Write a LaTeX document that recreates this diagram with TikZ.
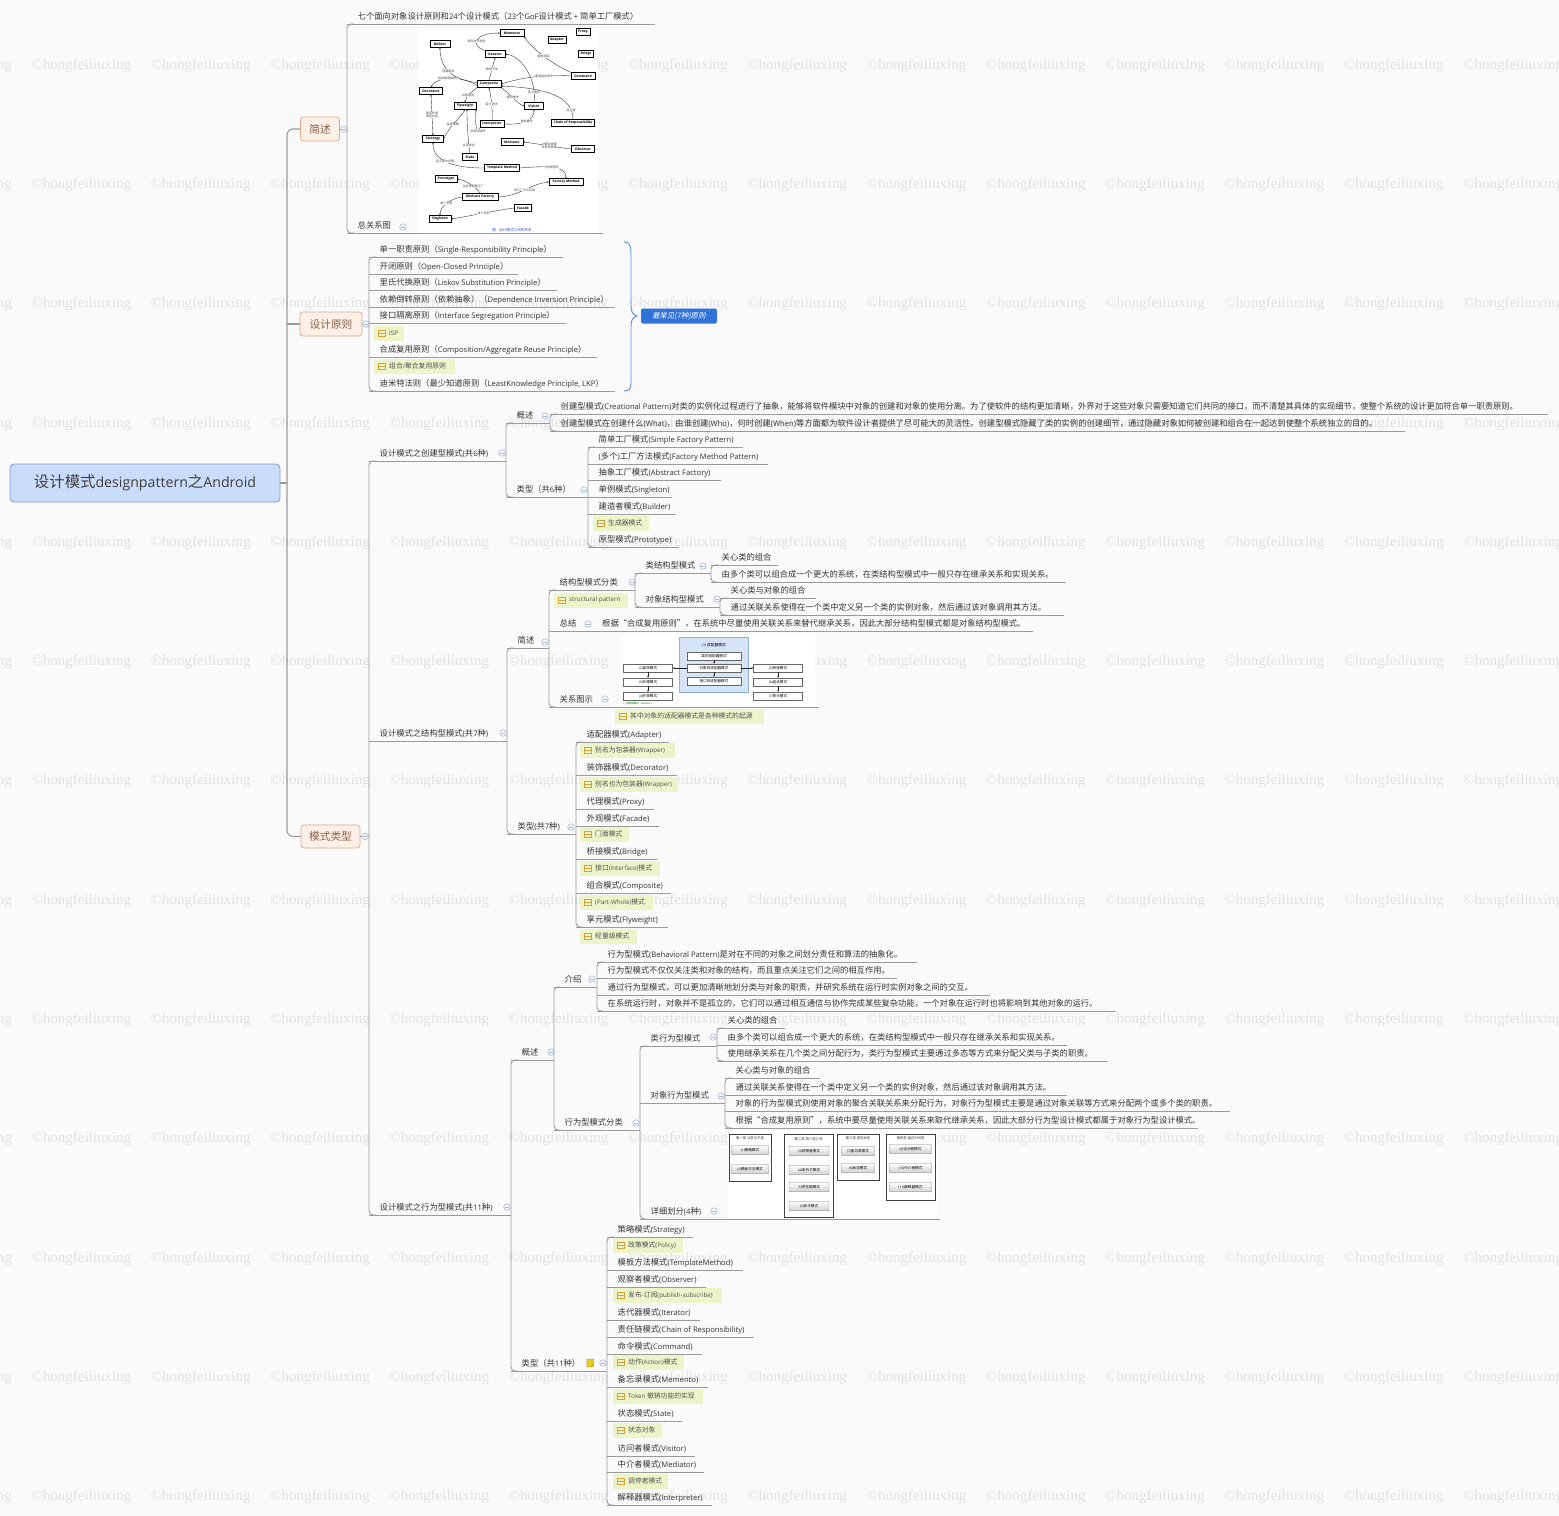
\documentclass[tikz,border=0pt]{standalone}
\usepackage{fontspec}
\setmainfont{Open Sans}[Scale=0.92]
\newfontfamily\latf{Open Sans}[Scale=0.92]
\newfontfamily\cjkf{Noto Sans CJK SC}
\newfontfamily\cjksl{Noto Sans CJK SC}[FakeSlant=0.18]
\newfontfamily\wmf{Liberation Serif}
\usetikzlibrary{calc,arrows.meta}

\XeTeXinterchartokenstate=1
\newXeTeXintercharclass\cjkcls
\newcount\mycnt
\mycnt="3000 \loop\ifnum\mycnt<"3040 \XeTeXcharclass\mycnt=\cjkcls \advance\mycnt by 1 \repeat
\mycnt="4E00 \loop\ifnum\mycnt<"A000 \XeTeXcharclass\mycnt=\cjkcls \advance\mycnt by 1 \repeat
\mycnt="FF00 \loop\ifnum\mycnt<"FFF0 \XeTeXcharclass\mycnt=\cjkcls \advance\mycnt by 1 \repeat
\XeTeXcharclass"201C=\cjkcls
\XeTeXcharclass"201D=\cjkcls
\XeTeXinterchartoks 0 \cjkcls = {\cjkf}
\XeTeXinterchartoks 4095 \cjkcls = {\cjkf}
\XeTeXinterchartoks \cjkcls 0 = {\latf}
\XeTeXinterchartoks \cjkcls 4095 = {\latf}

\definecolor{bgc}{HTML}{FAFAFA}
\definecolor{txt}{HTML}{333333}
\definecolor{lnc}{HTML}{9B9B9B}
\definecolor{rootf}{HTML}{C9DCFA}
\definecolor{rootd}{HTML}{7F98CB}
\definecolor{l1f}{HTML}{FDF1E6}
\definecolor{l1d}{HTML}{D9A98B}
\definecolor{l1t}{HTML}{86604A}
\definecolor{notef}{HTML}{EDF4C9}
\definecolor{notei}{HTML}{D4A23C}
\definecolor{collc}{HTML}{A9B8DC}
\definecolor{bracec}{HTML}{5A8FDB}
\definecolor{sumf}{HTML}{2F72D8}
\definecolor{wmc}{HTML}{E2E2E2}
\definecolor{capc}{HTML}{2B4FD6}
\definecolor{panelf}{HTML}{D6E4F8}
\definecolor{paneld}{HTML}{8EAEE2}

\newcommand{\tpc}[5]{%
  \coordinate (#1-l) at (#2,#3);
  \coordinate (#1-r) at (#4,#3);
  \draw[ln] (#1-l) -- (#1-r);
  \node[tp, anchor=base west] (#1) at ($(#1-l)+(10.5,-4.4)$) {#5};
}
\newcommand{\brch}[2]{\draw[ln, rounded corners=4pt] ($(#1-l)+(7,0)$) -- (#1-l) -- (#2-l) -- ($(#2-l)+(7,0)$);}
\newcommand{\nte}[5]{%
  \fill[notef] (#2,#3-7.5) rectangle (#4,#3+7.5);
  \coordinate (#1) at (#2,#3);
  \draw[notei, line width=0.6pt] ($(#1)+(4,-3)$) rectangle ($(#1)+(11,3)$);
  \draw[notei, line width=0.6pt] ($(#1)+(4,0)$) -- ($(#1)+(11,0)$);
  \node[ntext, anchor=west] (#1-t) at ($(#1)+(15,0)$) {#5};
}
\newcommand{\cll}[3]{\node[coll] (#1) at (#2,#3) {};}

\begin{document}
\begin{tikzpicture}[x=1pt,y=-1pt,
  ln/.style={draw=lnc, line width=0.9pt},
  ln1/.style={draw=lnc, line width=1.1pt},
  tp/.style={inner sep=0pt, font=\fontsize{8.3}{10}\selectfont, text=txt},
  l1box/.style={rectangle, rounded corners=3pt, fill=l1f, draw=l1d, line width=0.7pt, text=l1t, font=\fontsize{10.7}{12}\selectfont, inner sep=0pt},
  coll/.style={circle, draw=collc, line width=0.6pt, fill=bgc, minimum size=6.5pt, inner sep=0pt,
    path picture={\draw[collc, line width=0.7pt] ([xshift=-1.8pt]path picture bounding box.center) -- ([xshift=1.8pt]path picture bounding box.center);}},
  ntext/.style={inner sep=0pt, font=\fontsize{6.8}{8}\selectfont, text=txt!85},
  wm/.style={font=\wmf\fontsize{15}{16}\selectfont, text=wmc, inner sep=0pt, anchor=west},
  ibox/.style={draw=black, line width=0.45pt, fill=white, inner sep=0pt, minimum height=6.8pt, font=\fontsize{3.7}{4.5}\selectfont\bfseries},
  ilab/.style={inner sep=0.2pt, font=\fontsize{3}{3.6}\selectfont, text=black!75, fill=white, align=center},
  iarr/.style={draw=black!85, line width=0.35pt, -{Stealth[length=1.8pt,width=1.5pt]}},
  sbox/.style={draw=black!60, line width=0.4pt, fill=white, minimum width=49pt, minimum height=8pt, inner sep=0pt, font=\fontsize{3.6}{4}\selectfont},
  grp/.style={draw=black!75, line width=0.7pt, fill=white},
  gtitle/.style={inner sep=0pt, font=\fontsize{3.4}{4}\selectfont, text=black!80},
  btn/.style={draw=black!50, line width=0.4pt, top color=white, bottom color=black!18, rounded corners=0.8pt, minimum height=9.5pt, inner sep=0pt, font=\fontsize{3.6}{4}\selectfont}
]
\useasboundingbox (0,0) rectangle (1559,1516);
\fill[bgc] (0,0) rectangle (1559,1516);

% watermarks
\begin{scope}
\clip (0,0) rectangle (1559,1516);
\foreach \i in {0,...,13}{\foreach \j in {0,...,12}{
  \node[wm] (wm-\i-\j) at ({-88+119.3*\i},{65.5+119.3*\j}) {©hongfeiliuxing};
}}
\end{scope}

% root and level 1
\node[rectangle, rounded corners=4pt, fill=rootf, draw=rootd, line width=0.8pt, minimum width=270pt, minimum height=38pt, font=\fontsize{15.4}{18}\selectfont, text=black!75] (root) at (145,483) {设计模式designpattern之Android};
\node[l1box, minimum width=39pt, minimum height=24pt] (S1) at (320,129) {简述};
\node[l1box, minimum width=62pt, minimum height=24pt] (S2) at (331,324) {设计原则};
\node[l1box, minimum width=59pt, minimum height=23pt] (S3) at (330.5,836.5) {模式类型};
\draw[ln1, rounded corners=6pt] (S1.west) -| (287,483) |- (S3.west);
\draw[ln1] (root.east) -- (287,483);
\draw[ln1] (287,324) -- (S2.west);
\draw[ln] (S1.east) -- (347,129);
\draw[ln] (S2.east) -- (369,324);
\draw[ln] (S3.east) -- (369,836.5);
\cll{cS1}{344}{129}
\cll{cS2}{366}{324}
\cll{cS3}{365}{836.5}

% ---- 简述
\tpc{t1}{347}{24}{655}{七个面向对象设计原则和24个设计模式（23个GoF设计模式 + 简单工厂模式）}
\tpc{t2}{347}{233}{603}{总关系图}
\brch{t1}{t2}
\cll{ct2}{403}{227}

% ---- 设计原则
\tpc{p1}{369}{257}{563}{单一职责原则（Single-Responsibility  Principle）}
\tpc{p2}{369}{274}{518}{开闭原则（Open-Closed  Principle）}
\tpc{p3}{369}{290}{557}{里氏代换原则（Liskov Substitution Principle）}
\tpc{p4}{369}{307}{615}{依赖倒转原则（依赖抽象）（Dependence Inversion Principle）}
\tpc{p5}{369}{323}{566}{接口隔离原则（Interface Segregation Principle）}
\tpc{p6}{369}{357}{597}{合成复用原则（Composition/Aggregate Reuse Principle）}
\tpc{p7}{369}{391}{615}{迪米特法则（最少知道原则（LeastKnowledge Principle, LKP）}
\brch{p1}{p7}
\nte{n1}{374}{333}{404}{ISP}
\nte{n2}{374}{366}{455}{组合/聚合复用原则}
\draw[bracec, line width=0.9pt] (624,242) .. controls (629,242) and (631,245) .. (631,252) -- (631,306) .. controls (631,312) and (633,315) .. (637,316) .. controls (633,317) and (631,320) .. (631,326) -- (631,382) .. controls (631,389) and (629,391) .. (624,391);
\node[fill=sumf, draw=sumf!60!white, rounded corners=2pt, minimum width=76pt, minimum height=15pt, inner sep=0pt, text=white, font=\fontsize{7.4}{9}\selectfont] (sum) at (679,316) {\XeTeXinterchartokenstate=0 \cjksl 最常见(7种)原则};

% ---- 模式类型 level 2
\tpc{cre}{369}{461}{506}{设计模式之创建型模式(共6种)}
\tpc{str}{369}{741}{507}{设计模式之结构型模式(共7种)}
\tpc{beh}{369}{1215}{511}{设计模式之行为型模式(共11种)}
\brch{cre}{beh}
\cll{ccre}{502}{453}
\cll{cstr}{503}{733}
\cll{cbeh}{507}{1207}

% ---- 创建型
\tpc{cg}{506}{423}{550}{概述}
\tpc{ct}{506}{497}{588}{类型（共6种）}
\brch{cg}{ct}
\cll{ccg}{545}{416}
\cll{cct}{584}{490}
\tpc{cg1}{550}{414}{1548}{创建型模式(Creational Pattern)对类的实例化过程进行了抽象，能够将软件模块中对象的创建和对象的使用分离。为了使软件的结构更加清晰，外界对于这些对象只需要知道它们共同的接口，而不清楚其具体的实现细节，使整个系统的设计更加符合单一职责原则。}
\tpc{cg2}{550}{431}{1405}{创建型模式在创建什么(What)，由谁创建(Who)，何时创建(When)等方面都为软件设计者提供了尽可能大的灵活性。创建型模式隐藏了类的实例的创建细节，通过隐藏对象如何被创建和组合在一起达到使整个系统独立的目的。}
\brch{cg1}{cg2}
\tpc{ct1}{588}{447}{743}{简单工厂模式(Simple Factory Pattern)}
\tpc{ct2}{588}{464}{768}{(多个)工厂方法模式(Factory Method Pattern)}
\tpc{ct3}{588}{480}{721}{抽象工厂模式(Abstract  Factory)}
\tpc{ct4}{588}{497}{672}{单例模式(Singleton)}
\tpc{ct5}{588}{514}{676}{建造者模式(Builder)}
\tpc{ct6}{588}{547}{679}{原型模式(Prototype)}
\brch{ct1}{ct6}
\nte{n3}{593}{523}{649}{生成器模式}

% ---- 结构型
\tpc{sj}{507}{648}{549}{简述}
\tpc{sl}{507}{834}{576}{类型(共7种)}
\brch{sj}{sl}
\cll{csj}{545}{642}
\cll{csl}{571}{827}
\tpc{sf}{549}{590}{635}{结构型模式分类}
\tpc{sz}{549}{631}{1033}{总结}
\tpc{sg}{549}{707}{819}{关系图示}
\brch{sf}{sg}
\cll{csf}{632}{582}
\cll{csz}{588}{624}
\cll{csg}{605}{699}
\node[tp, anchor=base west] (szt) at (602,626.6) {根据“合成复用原则”，在系统中尽量使用关联关系来替代继承关系，因此大部分结构型模式都是对象结构型模式。};
\nte{n4}{554}{600}{628}{structural pattern}
\tpc{sf1}{635}{573}{711}{类结构型模式}
\tpc{sf2}{635}{607}{720}{对象结构型模式}
\brch{sf1}{sf2}
\cll{csf1}{703}{566}
\cll{csf2}{717}{599}
\tpc{sf11}{711}{565}{778}{关心类的组合}
\tpc{sf12}{711}{582}{1066}{由多个类可以组合成一个更大的系统，在类结构型模式中一般只存在继承关系和实现关系。}
\brch{sf11}{sf12}
\tpc{sf21}{720}{598}{816}{关心类与对象的组合}
\tpc{sf22}{720}{615}{1064}{通过关联关系使得在一个类中定义另一个类的实例对象，然后通过该对象调用其方法。}
\brch{sf21}{sf22}
\nte{n5}{615}{716}{764}{其中对象的适配器模式是各种模式的起源}
\tpc{sl1}{576}{742}{669}{适配器模式(Adapter)}
\tpc{sl2}{576}{775}{677}{装饰器模式(Decorator)}
\tpc{sl3}{576}{809}{654}{代理模式(Proxy)}
\tpc{sl4}{576}{826}{659}{外观模式(Facade)}
\tpc{sl5}{576}{859}{657}{桥接模式(Bridge)}
\tpc{sl6}{576}{893}{671}{组合模式(Composite)}
\tpc{sl7}{576}{927}{668}{享元模式(Flyweight)}
\brch{sl1}{sl7}
\nte{n6}{580}{750}{675}{别名为包装器(Wrapper)}
\nte{n7}{580}{784}{678}{别名也为包装器(Wrapper)}
\nte{n8}{580}{834}{629}{门面模式}
\nte{n9}{580}{868}{660}{接口(Interface)模式}
\nte{n10}{580}{902}{653}{(Part-Whole)模式}
\nte{n11}{580}{936}{637}{轻量级模式}

% ---- 行为型
\tpc{bg}{511}{1060}{554}{概述}
\tpc{bt}{511}{1371}{607}{类型（共11种）}
\brch{bg}{bt}
\cll{cbg}{551}{1052}
\cll{cbt}{603}{1363}
\fill[notei!55!yellow] (586.5,1359) rectangle (593.5,1367);
\draw[notei!80!black, line width=0.4pt] (586.5,1359) -- (593.5,1359) -- (593.5,1364.5) -- (591,1367) -- (586.5,1367) -- cycle;
\tpc{bj}{554}{987}{597}{介绍}
\tpc{bf}{554}{1130}{640}{行为型模式分类}
\brch{bj}{bf}
\cll{cbj}{592}{979}
\cll{cbf}{636}{1123}
\tpc{bj1}{597}{962}{917}{行为型模式(Behavioral Pattern)是对在不同的对象之间划分责任和算法的抽象化。}
\tpc{bj2}{597}{978}{897}{行为型模式不仅仅关注类和对象的结构，而且重点关注它们之间的相互作用。}
\tpc{bj3}{597}{995}{990}{通过行为型模式，可以更加清晰地划分类与对象的职责，并研究系统在运行时实例对象之间的交互。}
\tpc{bj4}{597}{1011}{1116}{在系统运行时，对象并不是孤立的，它们可以通过相互通信与协作完成某些复杂功能，一个对象在运行时也将影响到其他对象的运行。}
\brch{bj1}{bj4}
\tpc{bf1}{640}{1046}{717}{类行为型模式}
\tpc{bf2}{640}{1103}{725}{对象行为型模式}
\tpc{bf3}{640}{1219}{940}{详细划分(4种)}
\brch{bf1}{bf3}
\cll{cbf1}{713}{1037}
\cll{cbf2}{721}{1096}
\cll{cbf3}{714}{1211}
\tpc{bf11}{717}{1028}{785}{关心类的组合}
\tpc{bf12}{717}{1045}{1067}{由多个类可以组合成一个更大的系统，在类结构型模式中一般只存在继承关系和实现关系。}
\tpc{bf13}{717}{1061}{1108}{使用继承关系在几个类之间分配行为，类行为型模式主要通过多态等方式来分配父类与子类的职责。}
\brch{bf11}{bf13}
\tpc{bf21}{725}{1078}{820}{关心类与对象的组合}
\tpc{bf22}{725}{1095}{1067}{通过关联关系使得在一个类中定义另一个类的实例对象，然后通过该对象调用其方法。}
\tpc{bf23}{725}{1111}{1230}{对象的行为型模式则使用对象的聚合关联关系来分配行为，对象行为型模式主要是通过对象关联等方式来分配两个或多个类的职责。}
\tpc{bf24}{725}{1128}{1198}{根据“合成复用原则”，系统中要尽量使用关联关系来取代继承关系，因此大部分行为型设计模式都属于对象行为型设计模式。}
\brch{bf21}{bf24}
\tpc{bt1}{607}{1237}{693}{策略模式(Strategy)}
\tpc{bt2}{607}{1270}{743}{模板方法模式(TemplateMethod)}
\tpc{bt3}{607}{1287}{706}{观察者模式(Observer)}
\tpc{bt4}{607}{1320}{700}{迭代器模式(Iterator)}
\tpc{bt5}{607}{1337}{754}{责任链模式(Chain of Responsibility)}
\tpc{bt6}{607}{1354}{702}{命令模式(Command)}
\tpc{bt7}{607}{1387}{708}{备忘录模式(Memento)}
\tpc{bt8}{607}{1421}{682}{状态模式(State)}
\tpc{bt9}{607}{1456}{695}{访问者模式(Visitor)}
\tpc{bt10}{607}{1472}{704}{中介者模式(Mediator)}
\tpc{bt11}{607}{1505}{712}{解释器模式(Interpreter)}
\brch{bt1}{bt11}
\nte{n12}{613}{1245}{683}{政策模式(Policy)}
\nte{n13}{613}{1295}{722}{发布-订阅(publish-subscribe)}
\nte{n14}{613}{1362}{684}{动作(Action)模式}
\nte{n15}{613}{1396}{703}{Token 撤销功能的实现}
\nte{n16}{613}{1430}{662}{状态对象}
\nte{n17}{613}{1481}{668}{调停者模式}

% ===== image 1: relations among patterns
\fill[white] (418,28) rectangle (598,233);
\node[ibox, minimum width=24pt] (gM) at (512,33) {Memento};
\node[ibox, minimum width=14pt] (gPx) at (583,32) {Proxy};
\node[ibox, minimum width=18pt] (gAd) at (557,40) {Adapter};
\node[ibox, minimum width=20pt] (gBu) at (440,44) {Builder};
\node[ibox, minimum width=20pt] (gIt) at (495,54) {Iterator};
\node[ibox, minimum width=15pt] (gBr) at (586,54) {Bridge};
\node[ibox, minimum width=24pt] (gCm) at (583,76) {Command};
\node[ibox, minimum width=24pt] (gCo) at (489,84) {Composite};
\node[ibox, minimum width=23pt] (gDe) at (431,91) {Decorator};
\node[ibox, minimum width=22pt] (gFl) at (465,106) {Flyweight};
\node[ibox, minimum width=19pt] (gVi) at (534,106) {Visitor};
\node[ibox, minimum width=24pt] (gIn) at (492,124) {Interpreter};
\node[ibox, minimum width=43pt] (gCh) at (573,123) {Chain of Responsibility};
\node[ibox, minimum width=21pt] (gSg) at (433,139) {Strategy};
\node[ibox, minimum width=22pt] (gMe) at (512,142) {Mediator};
\node[ibox, minimum width=23pt] (gOb) at (583,149) {Observer};
\node[ibox, minimum width=15pt] (gSe) at (470,157) {State};
\node[ibox, minimum width=35pt] (gTM) at (502,168) {Template Method};
\node[ibox, minimum width=22pt] (gPr) at (446,179) {Prototype};
\node[ibox, minimum width=34pt] (gFM) at (566,182) {Factory Method};
\node[ibox, minimum width=36pt] (gAF) at (480,197) {Abstract Factory};
\node[ibox, minimum width=17pt] (gFa) at (523,208) {Facade};
\node[ibox, minimum width=22pt] (gSi) at (440,219) {Singleton};
\draw[iarr] (gIt.north west) .. controls (470,46) and (474,33) .. (gM.west) node[ilab, pos=0.45] (gl1) {保存迭代状态};
\draw[iarr] ($(gCo.west)+(0,-1.5)$) .. controls (450,80) and (440,66) .. (gBu.south) node[ilab, pos=0.5] (gl2) {创建组合};
\draw[iarr] (gCo.north) -- (gIt.south) node[ilab, pos=0.5] (gl3) {枚举子女};
\draw[iarr] (gCm.north west) .. controls (548,62) and (530,46) .. (gM.south east) node[ilab, pos=0.45] (gl4) {避免滞后};
\draw[iarr] (gCm.west) .. controls (545,74) and (520,78) .. (gCo.east) node[ilab, pos=0.35] (gl5) {使用组合命令};
\draw[iarr] ($(gCo.west)+(0,1.5)$) .. controls (465,76) and (436,76) .. (gDe.north) node[ilab, pos=0.55] (gl6) {给对象增加职责};
\draw[iarr] (gCo.south west) .. controls (472,92) and (466,96) .. (gFl.north) node[ilab, pos=0.6] (gl7) {共享组合};
\draw[iarr] (gCo.south east) .. controls (510,94) and (518,104) .. (gVi.west) node[ilab, pos=0.45] (gl8) {增加操作};
\draw[iarr] (gVi.north) .. controls (537,80) and (522,56) .. (gIt.east) node[ilab, pos=0.15] (gl9) {定义遍历};
\draw[iarr] (gIn.north) .. controls (493,112) and (491,96) .. (gCo.south) node[ilab, pos=0.5] (gl10) {定义语法};
\draw[iarr] (gIn.east) .. controls (524,125) and (534,120) .. (gVi.south) node[ilab, pos=0.5] (gl11) {增加操作};
\draw[iarr] (gCh.north) .. controls (573,96) and (545,88) .. ($(gCo.east)+(0,2)$) node[ilab, pos=0.15] (gl12) {定义链};
\draw[iarr, {Stealth[length=1.8pt,width=1.5pt]}-{Stealth[length=1.8pt,width=1.5pt]}] (gDe.south) -- (gSg.north) node[ilab, pos=0.5] (gl13) {改变外表\\改变内容};
\draw[iarr] (gSg.east) .. controls (448,128) and (460,118) .. (gFl.south) node[ilab, pos=0.45] (gl14) {共享策略};
\draw[iarr] (gSe.north) .. controls (468,140) and (467,125) .. ($(gFl.south)+(2,0)$) node[ilab, pos=0.2] (gl15) {共享状态};
\draw[iarr] (gIn.south west) .. controls (478,138) and (474,124) .. (gFl.south east) node[ilab, pos=0.3] (gl16) {共享终结符};
\draw[iarr] (gOb.west) .. controls (560,148) and (540,144) .. (gMe.east) node[ilab, pos=0.5] (gl17) {对复杂依赖\\关系的管理};
\draw[iarr] (gTM.west) .. controls (455,168) and (433,162) .. (gSg.south) node[ilab, pos=0.55] (gl18) {定义算法步骤};
\draw[iarr] (gTM.east) .. controls (545,166) and (566,165) .. (gFM.north) node[ilab, pos=0.5] (gl19) {经常使用};
\draw[iarr] (gAF.north) .. controls (478,188) and (465,180) .. (gPr.east) node[ilab, pos=0.4] (gl20) {动态地配置工厂};
\draw[iarr] (gAF.east) .. controls (520,196) and (530,184) .. (gFM.west) node[ilab, pos=0.5] (gl21) {用工厂方法实现};
\draw[iarr] (gAF.west) .. controls (450,199) and (440,206) .. (gSi.north) node[ilab, pos=0.5] (gl22) {单个实例};
\draw[iarr] (gFa.west) .. controls (498,210) and (470,216) .. (gSi.east) node[ilab, pos=0.5] (gl23) {单个实例};
\node[inner sep=0pt, font=\fontsize{3.6}{4}\selectfont, text=capc] (cap1) at (512,230) {图\quad 设计模式之间的关系};

% ===== image 2: structural patterns relation
\fill[white] (620,635) rectangle (815,707);
\node[rectangle, fill=panelf, draw=paneld, line width=0.5pt, minimum width=69pt, minimum height=55pt, inner sep=0pt] (aP) at (713.5,664.5) {};
\node[inner sep=0pt, font=\fontsize{3.8}{4}\selectfont] (aT) at (714,645) {(1) 适配器模式};
\node[sbox, minimum width=54pt] (a1) at (714,656) {类的适配器模式};
\node[sbox, minimum width=54pt] (a2) at (714,668) {对象的适配器模式};
\node[sbox, minimum width=54pt] (a3) at (714,681) {接口的适配器模式};
\node[sbox] (l1) at (648,668) {(2)装饰模式};
\node[sbox] (l2) at (648,682) {(3)代理模式};
\node[sbox] (l3) at (648,696) {(4)外观模式};
\node[sbox] (r1) at (778,668) {(5)桥接模式};
\node[sbox] (r2) at (778,682) {(6)组合模式};
\node[sbox] (r3) at (778,696) {(7)享元模式};
\draw[iarr] (a2.west) -- (l1.east);
\draw[iarr] (a2.east) -- (r1.west);
\draw[iarr] (a1.south) -- (a2.north);
\draw[iarr] (a2.south) -- (a3.north);
\draw[iarr] (l1.south) -- (l2.north);
\draw[iarr] (l2.south) -- (l3.north);
\draw[iarr] (r1.south) -- (r2.north);
\draw[iarr] (r2.south) -- (r3.north);
\node[inner sep=0pt, font=\fontsize{2.6}{3}\selectfont, text=green!45!black, anchor=west] (aCap) at (623,704) {a. 适配器模式（Adapter）};

% ===== image 3: behavioural patterns groups
\fill[white] (728,1131) rectangle (938,1218);
\draw[grp] (729,1134) rectangle (771,1181);
\draw[grp] (784,1134) rectangle (833,1217);
\draw[grp] (837,1134) rectangle (879,1180);
\draw[grp] (886,1134) rectangle (935,1200);
\node[gtitle] (g1t) at (750,1138.5) {第一类 父类与子类};
\node[gtitle] (g2t) at (808.5,1139) {第二类 两个类之间};
\node[gtitle] (g3t) at (858,1138.5) {第三类 类的状态};
\node[gtitle] (g4t) at (910.5,1138.5) {第四类 通过中间类};
\node[btn, minimum width=37pt] (b1) at (750,1150) {(1)策略模式};
\node[btn, minimum width=37pt] (b2) at (750,1169) {(2)模板方法模式};
\node[btn, minimum width=40pt] (b3) at (809,1151) {(3)观察者模式};
\node[btn, minimum width=40pt] (b4) at (809,1170) {(4)迭代子模式};
\node[btn, minimum width=40pt] (b5) at (809,1187) {(5)责任链模式};
\node[btn, minimum width=40pt] (b6) at (809,1206) {(6)命令模式};
\node[btn, minimum width=33pt] (b7) at (858,1151) {(7)备忘录模式};
\node[btn, minimum width=33pt] (b8) at (858,1168) {(8)状态模式};
\node[btn, minimum width=42pt] (b9) at (910.5,1149) {(9)访问者模式};
\node[btn, minimum width=42pt] (b10) at (910.5,1168) {(10)中介者模式};
\node[btn, minimum width=42pt] (b11) at (910.5,1187) {(11)解释器模式};
\end{tikzpicture}
\end{document}
